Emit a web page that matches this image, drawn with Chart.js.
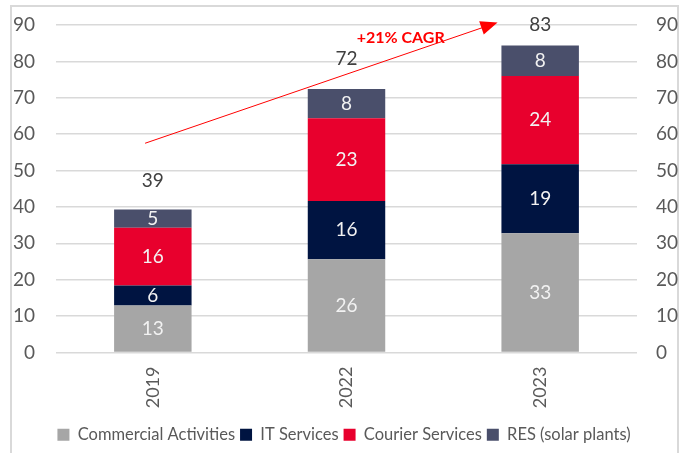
<!DOCTYPE html>
<html>
<head>
<meta charset="utf-8">
<script src="https://cdn.jsdelivr.net/npm/chart.js@4/dist/chart.umd.min.js"></script>
<style>
  html, body { margin: 0; padding: 0; background: #fff; }
  #wrap { position: relative; width: 688px; height: 453px; }
  #frame { position: absolute; left: 10px; top: 5px; width: 669px; height: 460px; border: 2px solid #d9d9d9; box-sizing: border-box; }
  canvas { position: absolute; left: 0; top: 0; }
</style>
</head>
<body>
<div id="wrap">
  <div id="frame"></div>
  <canvas id="revChart" width="688" height="453"></canvas>
</div>
<script>
var years = ["2019", "2022", "2023"];
var commercial = [12.9, 25.6, 32.8];
var itServices = [5.5, 16.0, 18.9];
var courier = [15.9, 22.8, 24.3];
var res = [5.0, 8.0, 8.4];
var totals = [39, 72, 83];
var yTicks = [0, 10, 20, 30, 40, 50, 60, 70, 80, 90];
var cagrText = "+21% CAGR";

var FONT = "Lato, 'Open Sans', sans-serif";

// white numbers inside segments, totals above, rotated years and the CAGR arrow
var labelsPlugin = {
    id: "barLabels",
    afterDatasetsDraw: function(chart){
        var ctx = chart.ctx;
        var xs = chart.scales.x, ys = chart.scales.y;
        ctx.save();
        ctx.textAlign = "center";
        ctx.textBaseline = "middle";
        ctx.font = "19px " + FONT;
        chart.data.datasets.forEach(function(ds, i){
            var meta = chart.getDatasetMeta(i);
            meta.data.forEach(function(bar, j){
                ctx.fillStyle = "#f2f2f2";
                ctx.fillText(Math.round(ds.data[j]), bar.x, (bar.y + bar.base) / 2);
            });
        });
        var top = chart.getDatasetMeta(chart.data.datasets.length - 1);
        var offs = [29, 30, 21];
        top.data.forEach(function(bar, j){
            ctx.fillStyle = "#404040";
            ctx.fillText(totals[j], bar.x, bar.y - offs[j]);
        });

        // years, rotated
        ctx.fillStyle = "#595959";
        ctx.font = "18px " + FONT;
        ctx.textAlign = "right";
        years.forEach(function(y, j){
            ctx.save();
            ctx.translate(xs.getPixelForValue(j), ys.bottom + 14);
            ctx.rotate(-Math.PI / 2);
            ctx.fillText(y, 0, 0);
            ctx.restore();
        });

        // arrow
        var x0 = xs.getPixelForValue(-0.04), y0 = ys.getPixelForValue(57.5);
        var x1 = xs.getPixelForValue(1.78), y1 = ys.getPixelForValue(90.7);
        var ang = Math.atan2(y1 - y0, x1 - x0);
        ctx.strokeStyle = "#ff0000";
        ctx.fillStyle = "#ff0000";
        ctx.lineWidth = 1;
        ctx.beginPath();
        ctx.moveTo(x0, y0);
        ctx.lineTo(x1 - 10 * Math.cos(ang), y1 - 10 * Math.sin(ang));
        ctx.stroke();
        ctx.beginPath();
        ctx.moveTo(x1, y1);
        ctx.lineTo(x1 - 17 * Math.cos(ang) + 7 * Math.sin(ang), y1 - 17 * Math.sin(ang) - 7 * Math.cos(ang));
        ctx.lineTo(x1 - 17 * Math.cos(ang) - 7 * Math.sin(ang), y1 - 17 * Math.sin(ang) + 7 * Math.cos(ang));
        ctx.closePath();
        ctx.fill();

        ctx.textAlign = "center";
        ctx.font = "bold 16px " + FONT;
        ctx.fillText(cagrText, xs.getPixelForValue(1.28), ys.getPixelForValue(86.6));
        ctx.restore();
    }
};

function noPad(s){ s.paddingTop = 0; s.paddingBottom = 0; }

var ctx = document.getElementById("revChart");
new Chart(ctx, {
    type: "bar",
    data: {
        labels: years,
        datasets: [
            { label: "Commercial Activities", data: commercial, backgroundColor: "#a6a6a6" },
            { label: "IT Services", data: itServices, backgroundColor: "#001441" },
            { label: "Courier Services", data: courier, backgroundColor: "#e8002d" },
            { label: "RES (solar plants)", data: res, backgroundColor: "#4a4f6b" }
        ]
    },
    options: {
        responsive: false,
        animation: false,
        categoryPercentage: 1,
        barPercentage: 0.4,
        layout: { autoPadding: false, padding: { left: 0, right: 0, top: 25, bottom: 0 } },
        plugins: {
            legend: {
                position: "bottom",
                labels: {
                    boxWidth: 12, boxHeight: 12, padding: 5,
                    color: "#595959",
                    font: { family: FONT, size: 16.5 }
                }
            },
            tooltip: { enabled: false }
        },
        scales: {
            x: {
                stacked: true,
                grid: { display: false },
                border: { display: false },
                ticks: { display: false },
                afterFit: function(s){ s.height = 69; }
            },
            y: {
                stacked: true,
                min: 0, max: 90,
                afterBuildTicks: function(ax){ ax.ticks = yTicks.map(function(v){ return { value: v }; }); },
                afterFit: function(s){ s.width = 56; noPad(s); },
                grid: { color: "#d9d9d9", lineWidth: 1.5, drawTicks: false },
                border: { display: false },
                ticks: { color: "#595959", padding: 21, font: { family: FONT, size: 19 } }
            },
            y2: {
                position: "right",
                min: 0, max: 90,
                afterBuildTicks: function(ax){ ax.ticks = yTicks.map(function(v){ return { value: v }; }); },
                afterFit: function(s){ s.width = 51; noPad(s); },
                grid: { display: false, drawTicks: false },
                border: { display: false },
                ticks: { color: "#595959", padding: 19, font: { family: FONT, size: 19 } }
            }
        }
    },
    plugins: [labelsPlugin]
});
</script>
</body>
</html>
